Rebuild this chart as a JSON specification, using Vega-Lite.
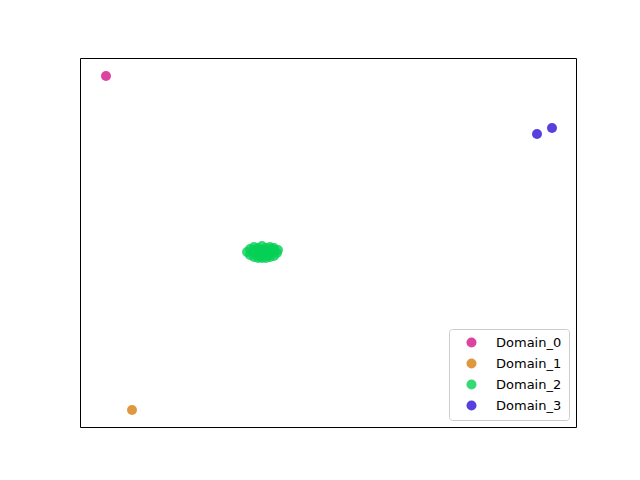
{
  "$schema": "https://vega.github.io/schema/vega-lite/v6.json",
  "width": 496,
  "height": 369,
  "autosize": {"type": "none"},
  "padding": {"left": 80, "top": 58, "right": 64, "bottom": 53},
  "background": "white",
  "config": {
    "view": {"stroke": "black", "strokeWidth": 1},
    "font": "DejaVu Sans"
  },
  "data": {
    "values": [
      {"x": 26, "y": 351, "domain": "Domain_0"},
      {"x": 52, "y": 17, "domain": "Domain_1"},
      {"x": 167, "y": 175, "domain": "Domain_2"},
      {"x": 170, "y": 172, "domain": "Domain_2"},
      {"x": 170, "y": 178, "domain": "Domain_2"},
      {"x": 174, "y": 170, "domain": "Domain_2"},
      {"x": 174, "y": 175, "domain": "Domain_2"},
      {"x": 174, "y": 180, "domain": "Domain_2"},
      {"x": 178, "y": 169, "domain": "Domain_2"},
      {"x": 178, "y": 174, "domain": "Domain_2"},
      {"x": 178, "y": 179, "domain": "Domain_2"},
      {"x": 182, "y": 169, "domain": "Domain_2"},
      {"x": 182, "y": 173, "domain": "Domain_2"},
      {"x": 182, "y": 177, "domain": "Domain_2"},
      {"x": 182, "y": 181, "domain": "Domain_2"},
      {"x": 186, "y": 169, "domain": "Domain_2"},
      {"x": 186, "y": 174, "domain": "Domain_2"},
      {"x": 186, "y": 179, "domain": "Domain_2"},
      {"x": 190, "y": 170, "domain": "Domain_2"},
      {"x": 190, "y": 175, "domain": "Domain_2"},
      {"x": 190, "y": 180, "domain": "Domain_2"},
      {"x": 194, "y": 171, "domain": "Domain_2"},
      {"x": 194, "y": 176, "domain": "Domain_2"},
      {"x": 194, "y": 179, "domain": "Domain_2"},
      {"x": 197, "y": 174, "domain": "Domain_2"},
      {"x": 198, "y": 177, "domain": "Domain_2"},
      {"x": 175, "y": 177, "domain": "Domain_2"},
      {"x": 185, "y": 176, "domain": "Domain_2"},
      {"x": 180, "y": 171, "domain": "Domain_2"},
      {"x": 188, "y": 172, "domain": "Domain_2"},
      {"x": 192, "y": 178, "domain": "Domain_2"},
      {"x": 457, "y": 293, "domain": "Domain_3"},
      {"x": 472, "y": 299, "domain": "Domain_3"}
    ]
  },
  "mark": {"type": "circle", "size": 100, "opacity": 0.8},
  "encoding": {
    "x": {"field": "x", "type": "quantitative", "scale": {"domain": [0, 496], "nice": false, "zero": false}, "axis": null},
    "y": {"field": "y", "type": "quantitative", "scale": {"domain": [0, 369], "nice": false, "zero": false}, "axis": null},
    "color": {
      "field": "domain",
      "type": "nominal",
      "scale": {"domain": ["Domain_0", "Domain_1", "Domain_2", "Domain_3"], "range": ["#d31588", "#d87e10", "#05d055", "#2e10d8"]},
      "legend": {
        "title": null,
        "orient": "bottom-right",
        "offset": 7,
        "padding": 7,
        "fillColor": "white",
        "strokeColor": "#cccccc",
        "cornerRadius": 3,
        "symbolType": "circle",
        "symbolSize": 100,
        "symbolOpacity": 0.8,
        "symbolStrokeWidth": 0,
        "symbolOffset": 9,
        "labelFontSize": 13,
        "labelFont": "DejaVu Sans",
        "labelColor": "black",
        "labelOffset": 18,
        "rowPadding": 7
      }
    }
  }
}
